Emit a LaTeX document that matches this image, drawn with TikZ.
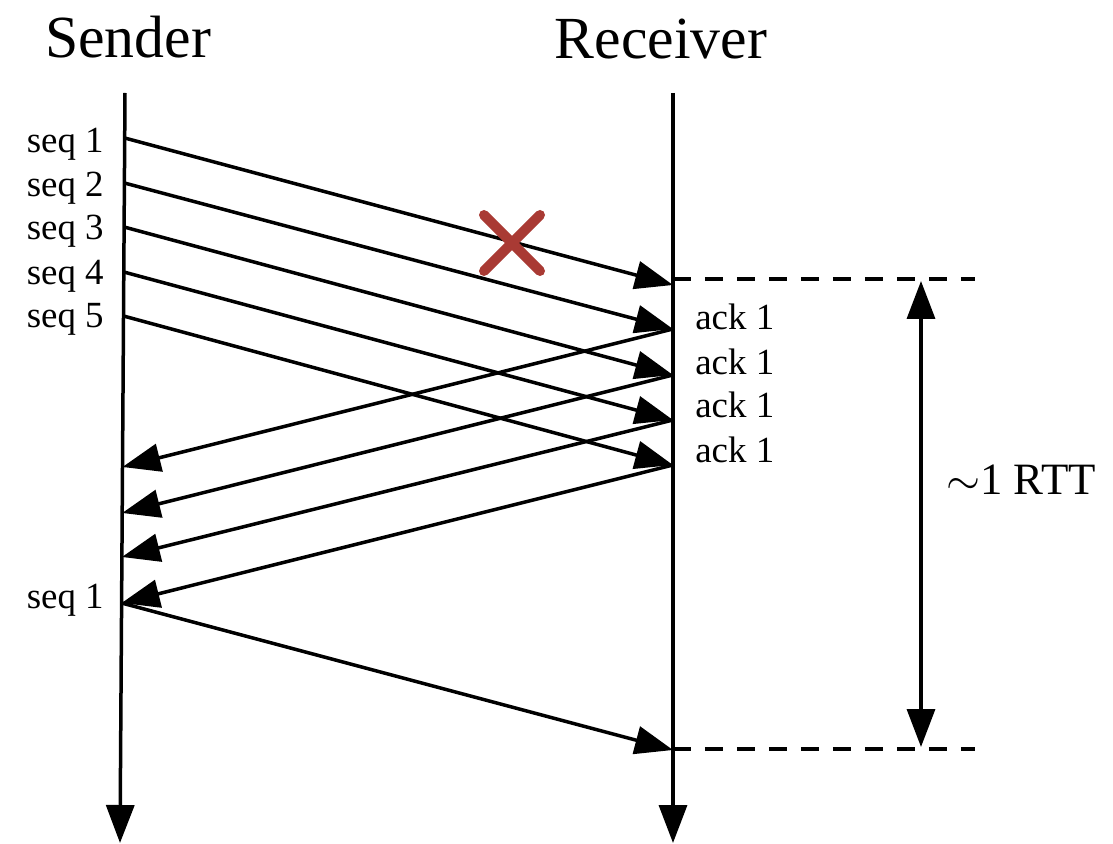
\documentclass[tikz,border=0pt]{standalone}
\usepackage{fontspec}
\setmainfont{Liberation Serif}
\usetikzlibrary{arrows.meta}
\definecolor{xred}{RGB}{169,58,52}
\begin{document}
\begin{tikzpicture}[x=0.02cm,y=-0.02cm,
  ln/.style={line width=0.07cm},
  msg/.style={ln, -{Triangle[length=0.76cm,width=0.56cm]}},
  dbl/.style={ln, {Triangle[length=0.76cm,width=0.56cm]}-{Triangle[length=0.76cm,width=0.56cm]}},
  dashline/.style={ln, dash pattern=on 0.36cm off 0.28cm},
  xmark/.style={line width=0.2cm, line cap=round, draw=xred},
  title/.style={inner sep=0pt, anchor=base, font=\fontsize{34}{40}\selectfont},
  lbl/.style={inner sep=0pt, font=\fontsize{21}{25}\selectfont},
  rtt/.style={inner sep=0pt, anchor=base west, font=\fontsize{25.5}{30}\selectfont}
]
\useasboundingbox (0,0) rectangle (1113,844);

% titles
\node[title] (sendertitle) at (128,58) {Sender};
\node[title] (receivertitle) at (661,59) {Receiver};

% lifelines
\coordinate (stop) at (125,93);
\coordinate (sbot) at (120,843);
\coordinate (rtop) at (673,93);
\coordinate (rbot) at (673,843);
\draw[msg] (stop) -- (sbot);
\draw[msg] (rtop) -- (rbot);

% send events on sender
\coordinate (a1) at (124.7,138);
\coordinate (a2) at (124.4,183);
\coordinate (a3) at (124.1,227);
\coordinate (a4) at (123.8,272);
\coordinate (a5) at (123.5,316);
% receive events on receiver
\coordinate (b1) at (673,285);
\coordinate (b2) at (673,329);
\coordinate (b3) at (673,375);
\coordinate (b4) at (673,420);
\coordinate (b5) at (673,465);
% ack arrivals on sender
\coordinate (c1) at (122.5,467);
\coordinate (c2) at (122.2,513);
\coordinate (c3) at (121.9,557);
\coordinate (c4) at (121.6,603);
% retransmission arrival
\coordinate (d) at (673,750);

% data segments
\draw[msg] (a1) -- (b1);
\draw[msg] (a2) -- (b2);
\draw[msg] (a3) -- (b3);
\draw[msg] (a4) -- (b4);
\draw[msg] (a5) -- (b5);
% acks
\draw[msg] (b2) -- (c1);
\draw[msg] (b3) -- (c2);
\draw[msg] (b4) -- (c3);
\draw[msg] (b5) -- (c4);
% retransmission
\draw[msg] (c4) -- (d);

% loss mark
\coordinate (xc) at (512,243);
\draw[xmark] ([shift={(-28,-28)}]xc) -- ([shift={(28,28)}]xc);
\draw[xmark] ([shift={(-28,28)}]xc) -- ([shift={(28,-28)}]xc);

% dashed reference lines
\coordinate (e1) at (673,279);
\coordinate (f1) at (975,279);
\coordinate (e2) at (673,749);
\coordinate (f2) at (975,749);
\draw[dashline] (e1) -- (f1);
\draw[dashline] (e2) -- (f2);

% RTT arrow
\coordinate (g1) at (921,281);
\coordinate (g2) at (921,747);
\draw[dbl] (g1) -- (g2);
\node[rtt] (rttlabel) at (946,495) {$\sim$1 RTT};

% sender labels
\node[lbl, anchor=base east] (s1) at (104,153) {seq 1};
\node[lbl, anchor=base east] (s2) at (104,197) {seq 2};
\node[lbl, anchor=base east] (s3) at (104,240) {seq 3};
\node[lbl, anchor=base east] (s4) at (104,285) {seq 4};
\node[lbl, anchor=base east] (s5) at (104,328) {seq 5};
\node[lbl, anchor=base east] (s6) at (104,608) {seq 1};

% receiver labels
\node[lbl, anchor=base west] (k1) at (695,330) {ack 1};
\node[lbl, anchor=base west] (k2) at (695,375) {ack 1};
\node[lbl, anchor=base west] (k3) at (695,418) {ack 1};
\node[lbl, anchor=base west] (k4) at (695,463) {ack 1};
\end{tikzpicture}
\end{document}
